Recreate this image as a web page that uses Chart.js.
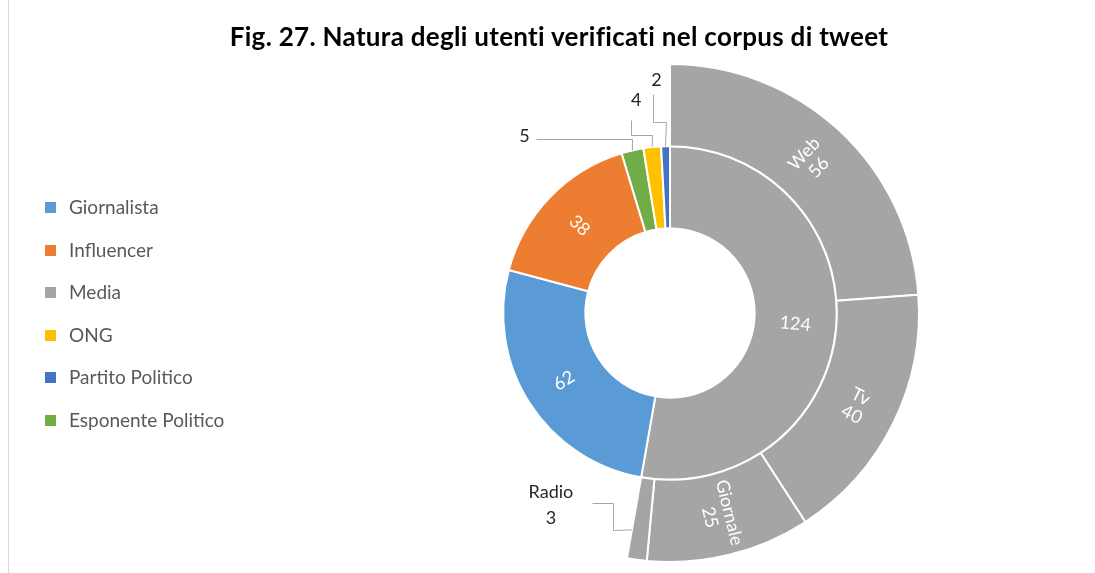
<!DOCTYPE html>
<html>
<head>
<meta charset="utf-8">
<script src="https://cdn.jsdelivr.net/npm/chart.js@4.4.1/dist/chart.umd.min.js"></script>
<style>
  html, body { margin: 0; padding: 0; background: #fff; overflow: hidden; }
  #wrap { position: relative; width: 1095px; height: 573px; }
  #chart { position: absolute; left: 0; top: 0; }
  #edge { position: absolute; left: 8px; top: 0; width: 1px; height: 573px; background: #d9d9d9; }
  #title { position: absolute; left: 0; top: 20px; width: 1118px; text-align: center;
           font: bold 26px Lato, sans-serif; letter-spacing: 0.3px; color: #000; line-height: 32px; }
  #legend { position: absolute; left: 45px; top: 195px; font: 19px Lato, sans-serif; color: #595959; }
  .item { height: 42.6px; display: flex; align-items: flex-start; }
  .box { width: 11px; height: 11px; margin: 7px 13px 0 0; }
</style>
</head>
<body>
<div id="wrap">
  <div id="edge"></div>
  <canvas id="chart" width="1095" height="573"></canvas>
  <div id="title">Fig. 27. Natura degli utenti verificati nel corpus di tweet</div>
  <div id="legend"></div>
</div>
<script>
// inner ring, clockwise from the top
var categories = ["Media", "Giornalista", "Influencer", "Esponente Politico", "ONG", "Partito Politico"];
var values = [124, 62, 38, 5, 4, 2];
var colors = ["#a5a5a5", "#5b9bd5", "#ed7d31", "#70ad47", "#ffc000", "#4472c4"];

// outer ring: breakdown of Media
var mediaTypes = ["Web", "Tv", "Giornale", "Radio"];
var mediaValues = [56, 40, 25, 3];

var legendOrder = ["Giornalista", "Influencer", "Media", "ONG", "Partito Politico", "Esponente Politico"];

var total = values.reduce(function (a, b) { return a + b; }, 0);
var mediaTotal = mediaValues.reduce(function (a, b) { return a + b; }, 0);

// legend
var lg = document.getElementById("legend");
legendOrder.forEach(function (name) {
	var k = categories.indexOf(name);
	var d = document.createElement("div");
	d.className = "item";
	d.innerHTML = '<span class="box" style="background:' + colors[k] + '"></span><span>' + name + '</span>';
	lg.appendChild(d);
});

// labels placed outside the ring with an elbow leader line (offsets from the anchor point)
var outside = {
	"Esponente Politico": { anchor: "mid", r: 1, path: [[0, -11], [-96, -11]], label: [-108, -14] },
	"ONG": { anchor: "mid", r: 1, path: [[0, -12], [-21, -12], [-21, -27]], label: [-16, -47] },
	"Partito Politico": { anchor: "mid", r: 1, path: [[0, -24], [-13, -24], [-13, -52]], label: [-9, -66] },
	"Radio": { anchor: "end", r: 0.65, path: [[-19, 0], [-19, -27], [-40, -27]], label: [-81, -25] }
};

var ringLabels = {
	id: "ringLabels",
	afterDatasetsDraw: function (chart) {
		var ctx = chart.ctx;
		chart.data.datasets.forEach(function (ds, di) {
			var meta = chart.getDatasetMeta(di);
			meta.data.forEach(function (arc, i) {
				var name = ds.names[i];
				if (!name) return;
				var p = arc.getProps(["x", "y", "startAngle", "endAngle", "innerRadius", "outerRadius"], true);
				var lines = ds.showName ? [name, String(ds.data[i])] : [String(ds.data[i])];
				var o = outside[name];
				ctx.save();
				ctx.textAlign = "center";
				ctx.textBaseline = "middle";
				if (o) {
					var a = o.anchor === "end" ? p.endAngle : (p.startAngle + p.endAngle) / 2;
					var r = p.innerRadius + (p.outerRadius - p.innerRadius) * o.r;
					var ax = p.x + r * Math.cos(a), ay = p.y + r * Math.sin(a);
					ctx.strokeStyle = "#a6a6a6";
					ctx.lineWidth = 1;
					ctx.beginPath();
					ctx.moveTo(ax, ay);
					o.path.forEach(function (q) { ctx.lineTo(Math.round(ax + q[0]) + 0.5, Math.round(ay + q[1]) + 0.5); });
					ctx.stroke();
					ctx.fillStyle = "#262626";
					ctx.font = "18px Lato, sans-serif";
					var lh = 26;
					lines.forEach(function (t, j) {
						ctx.fillText(t, ax + o.label[0], ay + o.label[1] + (j - (lines.length - 1) / 2) * lh);
					});
				} else {
					var m = (p.startAngle + p.endAngle) / 2;
					var rm = (p.innerRadius + p.outerRadius) / 2;
					ctx.translate(p.x + rm * Math.cos(m), p.y + rm * Math.sin(m));
					ctx.rotate(Math.cos(m) < 0 ? m + Math.PI : m);
					ctx.fillStyle = "#ffffff";
					ctx.font = "18px Lato, sans-serif";
					var lh2 = 20;
					lines.forEach(function (t, j) {
						ctx.fillText(t, 0, (j - (lines.length - 1) / 2) * lh2);
					});
				}
				ctx.restore();
			});
		});
	}
};

var ctx = document.getElementById("chart").getContext("2d");
var myChart = new Chart(ctx, {
	type: "doughnut",
	data: {
		labels: categories,
		datasets: [
			{
				// outer ring, the rest of the circle left empty
				data: mediaValues.concat([total - mediaTotal]),
				names: mediaTypes.concat([null]),
				showName: true,
				backgroundColor: mediaValues.map(function () { return "#a5a5a5"; }).concat(["rgba(0,0,0,0)"]),
				borderColor: "#ffffff",
				borderWidth: mediaValues.map(function () { return 2; }).concat([0])
			},
			{
				data: values,
				names: categories,
				showName: false,
				backgroundColor: colors,
				borderColor: "#ffffff",
				borderWidth: 2
			}
		]
	},
	options: {
		responsive: false,
		animation: false,
		events: [],
		cutout: "34%",
		layout: { padding: { left: 420, right: 175, top: 63, bottom: 10 } },
		plugins: {
			legend: { display: false },
			title: { display: false },
			tooltip: { enabled: false }
		}
	},
	plugins: [ringLabels]
});
</script>
</body>
</html>
